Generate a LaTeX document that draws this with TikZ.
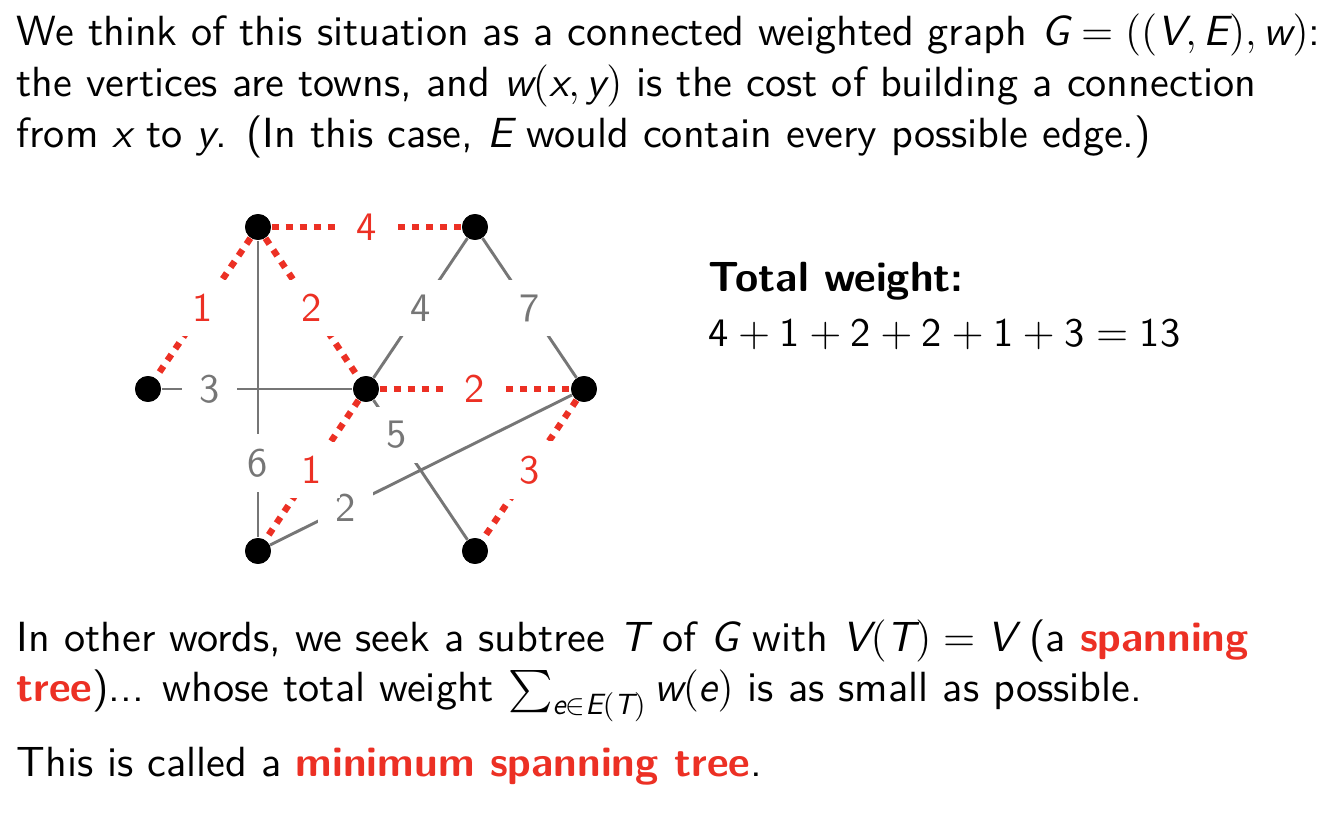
\documentclass[tikz,border=0pt]{standalone}
\usepackage{amsmath}
\usetikzlibrary{positioning}
\definecolor{mstred}{RGB}{236,48,36}
\definecolor{roadgray}{RGB}{118,118,118}
% Latin Modern Sans, design size 10 at every size
\DeclareFontFamily{TU}{lmsst}{}
\DeclareFontShape{TU}{lmsst}{m}{n}{<-> "[lmsans10-regular.otf]:mapping=tex-text"}{}
\DeclareFontShape{TU}{lmsst}{m}{sl}{<-> "[lmsans10-oblique.otf]:mapping=tex-text"}{}
\DeclareFontShape{TU}{lmsst}{m}{it}{<-> ssub * lmsst/m/sl}{}
\DeclareFontShape{TU}{lmsst}{b}{n}{<-> "[lmsans10-bold.otf]:mapping=tex-text"}{}
\DeclareFontShape{TU}{lmsst}{bx}{n}{<-> ssub * lmsst/b/n}{}
\renewcommand\sfdefault{lmsst}
% sans letters and digits in formulas
\DeclareSymbolFont{sfit}{TU}{lmsst}{m}{sl}
\DeclareSymbolFont{sfup}{TU}{lmsst}{m}{n}
\DeclareMathSymbol{G}{\mathalpha}{sfit}{`G}
\DeclareMathSymbol{V}{\mathalpha}{sfit}{`V}
\DeclareMathSymbol{E}{\mathalpha}{sfit}{`E}
\DeclareMathSymbol{T}{\mathalpha}{sfit}{`T}
\DeclareMathSymbol{w}{\mathalpha}{sfit}{`w}
\DeclareMathSymbol{x}{\mathalpha}{sfit}{`x}
\DeclareMathSymbol{y}{\mathalpha}{sfit}{`y}
\DeclareMathSymbol{e}{\mathalpha}{sfit}{`e}
\DeclareMathSymbol{1}{\mathalpha}{sfup}{`1}
\DeclareMathSymbol{2}{\mathalpha}{sfup}{`2}
\DeclareMathSymbol{3}{\mathalpha}{sfup}{`3}
\DeclareMathSymbol{4}{\mathalpha}{sfup}{`4}
\AtBeginDocument{\sffamily}

\begin{document}
\begin{tikzpicture}[x=0.012cm, y=-0.012cm,
  every node/.style={font=\fontsize{14.4}{17.4}\selectfont},
  line/.style={anchor=base west, inner sep=0pt},
  town/.style={circle, fill=black, minimum size=0.31cm, inner sep=0pt},
  road/.style={draw=roadgray, line width=1pt},
  chosen/.style={draw=mstred, line width=2.2pt, dash pattern=on 2.4pt off 2.4pt},
  wt/.style={fill=white, inner xsep=6pt, inner ysep=5pt, text=roadgray,
    font=\fontsize{13.8}{16}\selectfont},
  cwt/.style={wt, text=mstred}]
\useasboundingbox (0,0) rectangle (1334,828);

% intro text
\node (l1) [line] at (16,46) {We think of this situation as a connected weighted graph $G=((V,E),w)$:};
\node (l2) [line] at (16,97) {the vertices are towns, and $w(x,y)$ is the cost of building a connection};
\node (l3) [line] at (16,148) {from $x$ to $y$. (In this case, $E$ would contain every possible edge.)};

% towns
\node (a) [town] at (258,227) {};
\node (b) [town] at (475,227) {};
\node (c) [town] at (148,389) {};
\node (d) [town] at (366,389) {};
\node (e) [town] at (584,389) {};
\node (f) [town] at (258,551) {};
\node (g) [town] at (475,551) {};

% all roads
\draw[road] (a) -- node[wt, pos=.75] {6} (f);
\draw[road] (c) -- node[wt, pos=.25] {3} (d);
\draw[road] (b) -- node[wt] {4} (d);
\draw[road] (b) -- node[wt] {7} (e);
\draw[road] (d) -- node[wt, pos=.25] {5} (g);
\draw[road] (f) -- node[wt, pos=.25] {2} (e);

% the tree
\draw[chosen] (a) -- node[cwt] {4} (b);
\draw[chosen] (a) -- node[cwt] {1} (c);
\draw[chosen] (a) -- node[cwt] {2} (d);
\draw[chosen] (d) -- node[cwt] {2} (e);
\draw[chosen] (d) -- node[cwt] {1} (f);
\draw[chosen] (e) -- node[cwt] {3} (g);

\foreach \t in {a,b,c,d,e,f,g}
  \node[town] at (\t) {};

\node (tw) [line] at (708,292) {\bfseries Total weight:};
\node (sum) [line, font=\fontsize{13.8}{17.4}\selectfont] at (708,347) {$4+1+2+2+1+3=13$};

% closing text
\node (m1) [line] at (16,652) {In other words, we seek a subtree $T$ of $G$ with $V(T)=V$ (a \textbf{\color{mstred}spanning}};
\node (m2) [line] at (16,702) {\textbf{\color{mstred}tree})... whose total weight $\sum_{e\in E(T)} w(e)$ is as small as possible.};
\node (m3) [line] at (16,777) {This is called a \textbf{\color{mstred}minimum spanning tree}.};
\end{tikzpicture}
\end{document}
